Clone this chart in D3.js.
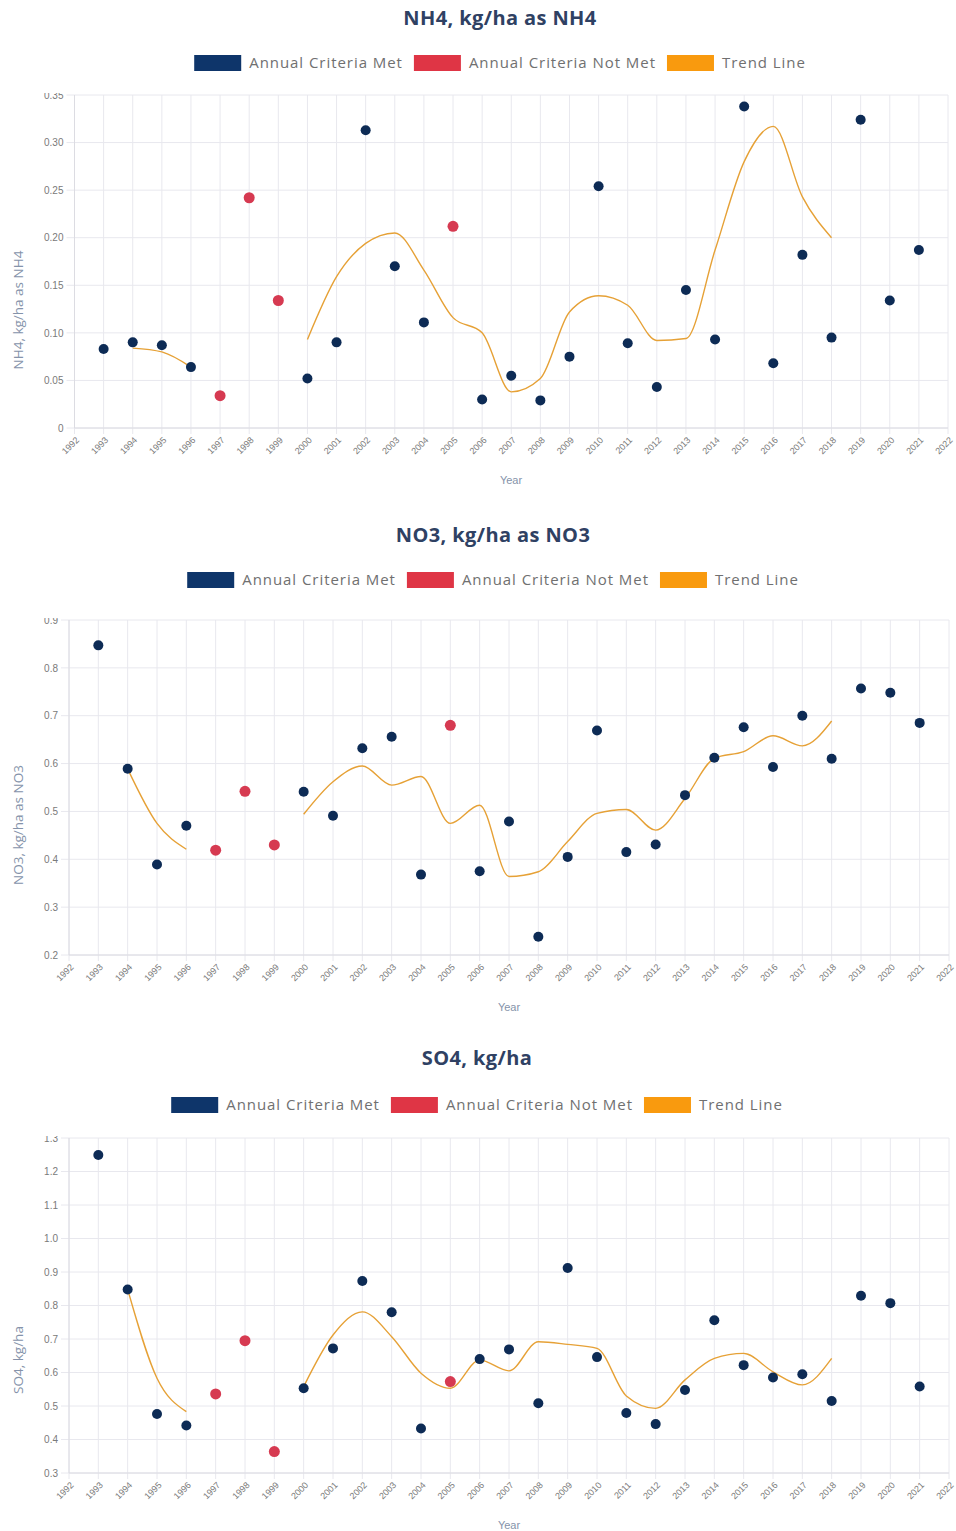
<!DOCTYPE html>
<html>
<head>
<meta charset="utf-8">
<script src="https://cdn.jsdelivr.net/npm/d3@7/dist/d3.min.js"></script>
<style>
  html, body { margin: 0; padding: 0; background: #ffffff; }
  svg { display: block; }
</style>
</head>
<body>
<script>
// ---- Shared categories ----
const xTickYears = [1992,1993,1994,1995,1996,1997,1998,1999,2000,2001,2002,2003,2004,2005,2006,2007,
                    2008,2009,2010,2011,2012,2013,2014,2015,2016,2017,2018,2019,2020,2021,2022];
const pointYears = [1993,1994,1995,1996,1997,1998,1999,2000,2001,2002,2003,2004,2005,2006,2007,
                    2008,2009,2010,2011,2012,2013,2014,2015,2016,2017,2018,2019,2020,2021];
// 1 = annual criteria met, 0 = not met
const criteriaMet = [1,1,1,1,0,0,0,1,1,1,1,1,0,1,1,1,1,1,1,1,1,1,1,1,1,1,1,1,1];
const trendYearsA = [1994,1995,1996];
const trendYearsB = [2000,2001,2002,2003,2004,2005,2006,2007,2008,2009,2010,2011,2012,2013,2014,2015,2016,2017,2018];
const legendLabels = ["Annual Criteria Met", "Annual Criteria Not Met", "Trend Line"];

// ---- NH4 ----
const nh4Values = [0.083,0.090,0.087,0.064,0.034,0.242,0.134,0.052,0.090,0.313,0.170,0.111,0.212,0.030,0.055,
                   0.029,0.075,0.254,0.089,0.043,0.145,0.093,0.338,0.068,0.182,0.095,0.324,0.134,0.187];
const nh4TrendA = [0.084,0.080,0.064];
const nh4TrendB = [0.093,0.159,0.194,0.205,0.166,0.116,0.100,0.038,0.052,0.122,0.139,0.129,0.092,0.094,
                   0.187,0.280,0.317,0.243,0.200];
const nh4Ticks = [0,0.05,0.10,0.15,0.20,0.25,0.30,0.35];
const nh4TickLabels = ["0","0.05","0.10","0.15","0.20","0.25","0.30","0.35"];

// ---- NO3 ----
const no3Values = [0.847,0.589,0.389,0.470,0.419,0.542,0.430,0.541,0.491,0.632,0.656,0.368,0.680,0.375,0.479,
                   0.238,0.405,0.669,0.415,0.431,0.534,0.612,0.676,0.593,0.700,0.610,0.757,0.748,0.685];
const no3TrendA = [0.589,0.475,0.421];
const no3TrendB = [0.494,0.562,0.595,0.555,0.573,0.475,0.513,0.364,0.374,0.437,0.496,0.504,0.461,0.527,
                   0.611,0.625,0.658,0.637,0.689];
const no3Ticks = [0.2,0.3,0.4,0.5,0.6,0.7,0.8,0.9];
const no3TickLabels = ["0.2","0.3","0.4","0.5","0.6","0.7","0.8","0.9"];

// ---- SO4 ----
const so4Values = [1.249,0.848,0.476,0.442,0.536,0.695,0.364,0.553,0.672,0.873,0.780,0.433,0.573,0.640,0.669,
                   0.508,0.912,0.646,0.479,0.446,0.548,0.756,0.622,0.585,0.595,0.515,0.829,0.807,0.558];
const so4TrendA = [0.848,0.583,0.483];
const so4TrendB = [0.558,0.712,0.781,0.707,0.598,0.553,0.637,0.605,0.692,0.684,0.672,0.530,0.493,0.578,
                   0.642,0.657,0.602,0.563,0.642];
const so4Ticks = [0.3,0.4,0.5,0.6,0.7,0.8,0.9,1.0,1.1,1.2,1.3];
const so4TickLabels = ["0.3","0.4","0.5","0.6","0.7","0.8","0.9","1.0","1.1","1.2","1.3"];

// ---- Styling ----
const COLORS = { met: "#0d2b55", notMet: "#d63a51", trend: "#e6a136",
                 legendMet: "#0e356a", legendNotMet: "#df3545", legendTrend: "#f99a0e",
                 grid: "#e8e8ee", title: "#2f4163", tick: "#7a7a7a", axisTitle: "#8593aa", legendText: "#707070" };
const TITLE_FONT = "'Open Sans', 'Noto Sans', sans-serif";
const TICK_FONT = "'Liberation Sans', Arial, sans-serif";

const svg = d3.select("body").append("svg").attr("width", 956).attr("height", 1531);
const defs = svg.append("defs");

const panels = [
  { id: "nh4", title: "NH4, kg/ha as NH4", yTitle: "NH4, kg/ha as NH4", values: nh4Values,
    trendA: nh4TrendA, trendB: nh4TrendB, ticks: nh4Ticks, tickLabels: nh4TickLabels,
    box: { left: 74.5, right: 948, top: 95, bottom: 428 }, center: 500, titleY: 18, legendY: 63,
    yTitlePos: [18, 310], xTitlePos: [511, 480] },
  { id: "no3", title: "NO3, kg/ha as NO3", yTitle: "NO3, kg/ha as NO3", values: no3Values,
    trendA: no3TrendA, trendB: no3TrendB, ticks: no3Ticks, tickLabels: no3TickLabels,
    box: { left: 69, right: 949, top: 620, bottom: 955 }, center: 493, titleY: 535, legendY: 580,
    yTitlePos: [18, 825], xTitlePos: [509, 1007] },
  { id: "so4", title: "SO4, kg/ha", yTitle: "SO4, kg/ha", values: so4Values,
    trendA: so4TrendA, trendB: so4TrendB, ticks: so4Ticks, tickLabels: so4TickLabels,
    box: { left: 69, right: 949, top: 1138, bottom: 1473 }, center: 477, titleY: 1058, legendY: 1105,
    yTitlePos: [18, 1360], xTitlePos: [509, 1525] }
];

panels.forEach(drawPanel);

function drawPanel(p) {
  const g = svg.append("g").attr("class", "panel-" + p.id);
  const b = p.box;
  const x = d3.scaleLinear().domain([xTickYears[0], xTickYears[xTickYears.length - 1]]).range([b.left, b.right]);
  const y = d3.scaleLinear().domain([p.ticks[0], p.ticks[p.ticks.length - 1]]).range([b.bottom, b.top]);

  // Title
  g.append("text")
    .attr("x", p.center).attr("y", p.titleY).attr("dy", "0.35em")
    .attr("text-anchor", "middle")
    .style("font-family", TITLE_FONT).style("font-weight", 700).style("font-size", "20px")
    .style("letter-spacing", "0.4px")
    .style("fill", COLORS.title)
    .text(p.title);

  // Legend, laid out from measured text widths and centred
  const legendColors = [COLORS.legendMet, COLORS.legendNotMet, COLORS.legendTrend];
  const lg = g.append("g");
  const boxW = 47, boxH = 16, boxGap = 8, itemGap = 11;
  let cursor = 0;
  legendLabels.forEach((label, i) => {
    const item = lg.append("g").attr("transform", `translate(${cursor},0)`);
    item.append("rect").attr("x", 0).attr("y", -boxH / 2).attr("width", boxW).attr("height", boxH)
      .attr("fill", legendColors[i]);
    const t = item.append("text").attr("x", boxW + boxGap).attr("dy", "0.35em")
      .style("font-family", TITLE_FONT).style("font-size", "15px").style("letter-spacing", "0.95px")
      .style("fill", COLORS.legendText)
      .text(label);
    cursor += boxW + boxGap + t.node().getComputedTextLength() + itemGap;
  });
  const legendW = cursor - itemGap;
  lg.attr("transform", `translate(${p.center - legendW / 2},${p.legendY})`);

  // Grid
  const grid = g.append("g");
  grid.selectAll("line.v").data(xTickYears).join("line")
    .attr("x1", d => x(d)).attr("x2", d => x(d))
    .attr("y1", b.top).attr("y2", b.bottom + 6)
    .attr("stroke", COLORS.grid).attr("stroke-width", 1);
  grid.selectAll("line.h").data(p.ticks).join("line")
    .attr("x1", b.left - 8).attr("x2", b.right)
    .attr("y1", d => y(d)).attr("y2", d => y(d))
    .attr("stroke", COLORS.grid).attr("stroke-width", 1);
  // Axis lines slightly stronger
  g.append("line").attr("x1", b.left).attr("x2", b.right).attr("y1", b.bottom).attr("y2", b.bottom)
    .attr("stroke", "#dcdce2");
  g.append("line").attr("x1", b.left).attr("x2", b.left).attr("y1", b.top).attr("y2", b.bottom)
    .attr("stroke", "#dcdce2");

  // Y tick labels (top label partly clipped by the canvas edge)
  const clipId = "clip-" + p.id;
  defs.append("clipPath").attr("id", clipId).append("rect")
    .attr("x", 0).attr("y", b.top - 2).attr("width", b.left).attr("height", b.bottom - b.top + 20);
  const yAxis = d3.axisLeft(y).tickValues(p.ticks).tickSize(0).tickPadding(11)
    .tickFormat((d, i) => p.tickLabels[i]);
  const yWrap = g.append("g").attr("clip-path", `url(#${clipId})`);
  const ya = yWrap.append("g").attr("transform", `translate(${b.left},0)`).call(yAxis);
  ya.select(".domain").remove();
  ya.selectAll("text").style("font-family", TICK_FONT).style("font-size", "10px").style("fill", COLORS.tick);

  // X tick labels, rotated
  const xAxis = d3.axisBottom(x).tickValues(xTickYears).tickSize(0).tickPadding(0).tickFormat(d3.format("d"));
  const xa = g.append("g").attr("transform", `translate(0,${b.bottom})`).call(xAxis);
  xa.select(".domain").remove();
  xa.selectAll("text")
    .attr("y", 0).attr("dy", 0)
    .attr("transform", "translate(3,11) rotate(-45)")
    .style("text-anchor", "end")
    .attr("dominant-baseline", "middle")
    .style("font-family", TICK_FONT).style("font-size", "9px").style("fill", COLORS.tick);

  // Axis titles
  g.append("text")
    .attr("transform", `translate(${p.yTitlePos[0]},${p.yTitlePos[1]}) rotate(-90)`)
    .attr("text-anchor", "middle").attr("dy", "0.35em")
    .style("font-family", TITLE_FONT).style("font-size", "13.5px").style("fill", COLORS.axisTitle)
    .text(p.yTitle);
  g.append("text")
    .attr("x", p.xTitlePos[0]).attr("y", p.xTitlePos[1]).attr("dy", "0.35em")
    .attr("text-anchor", "middle")
    .style("font-family", TICK_FONT).style("font-size", "11px").style("fill", COLORS.axisTitle)
    .text("Year");

  // Trend line segments
  const line = d3.line().x(d => x(d[0])).y(d => y(d[1])).curve(d3.curveMonotoneX);
  [[trendYearsA, p.trendA], [trendYearsB, p.trendB]].forEach(([yrs, vals]) => {
    g.append("path").datum(yrs.map((yr, i) => [yr, vals[i]]))
      .attr("d", line).attr("fill", "none")
      .attr("stroke", COLORS.trend).attr("stroke-width", 1.4);
  });

  // Annual points
  g.append("g").selectAll("circle")
    .data(pointYears.map((yr, i) => ({ yr, v: p.values[i], met: criteriaMet[i] })))
    .join("circle")
    .attr("cx", d => x(d.yr)).attr("cy", d => y(d.v))
    .attr("r", d => d.met ? 5 : 5.5)
    .attr("fill", d => d.met ? COLORS.met : COLORS.notMet);
}
</script>
</body>
</html>
